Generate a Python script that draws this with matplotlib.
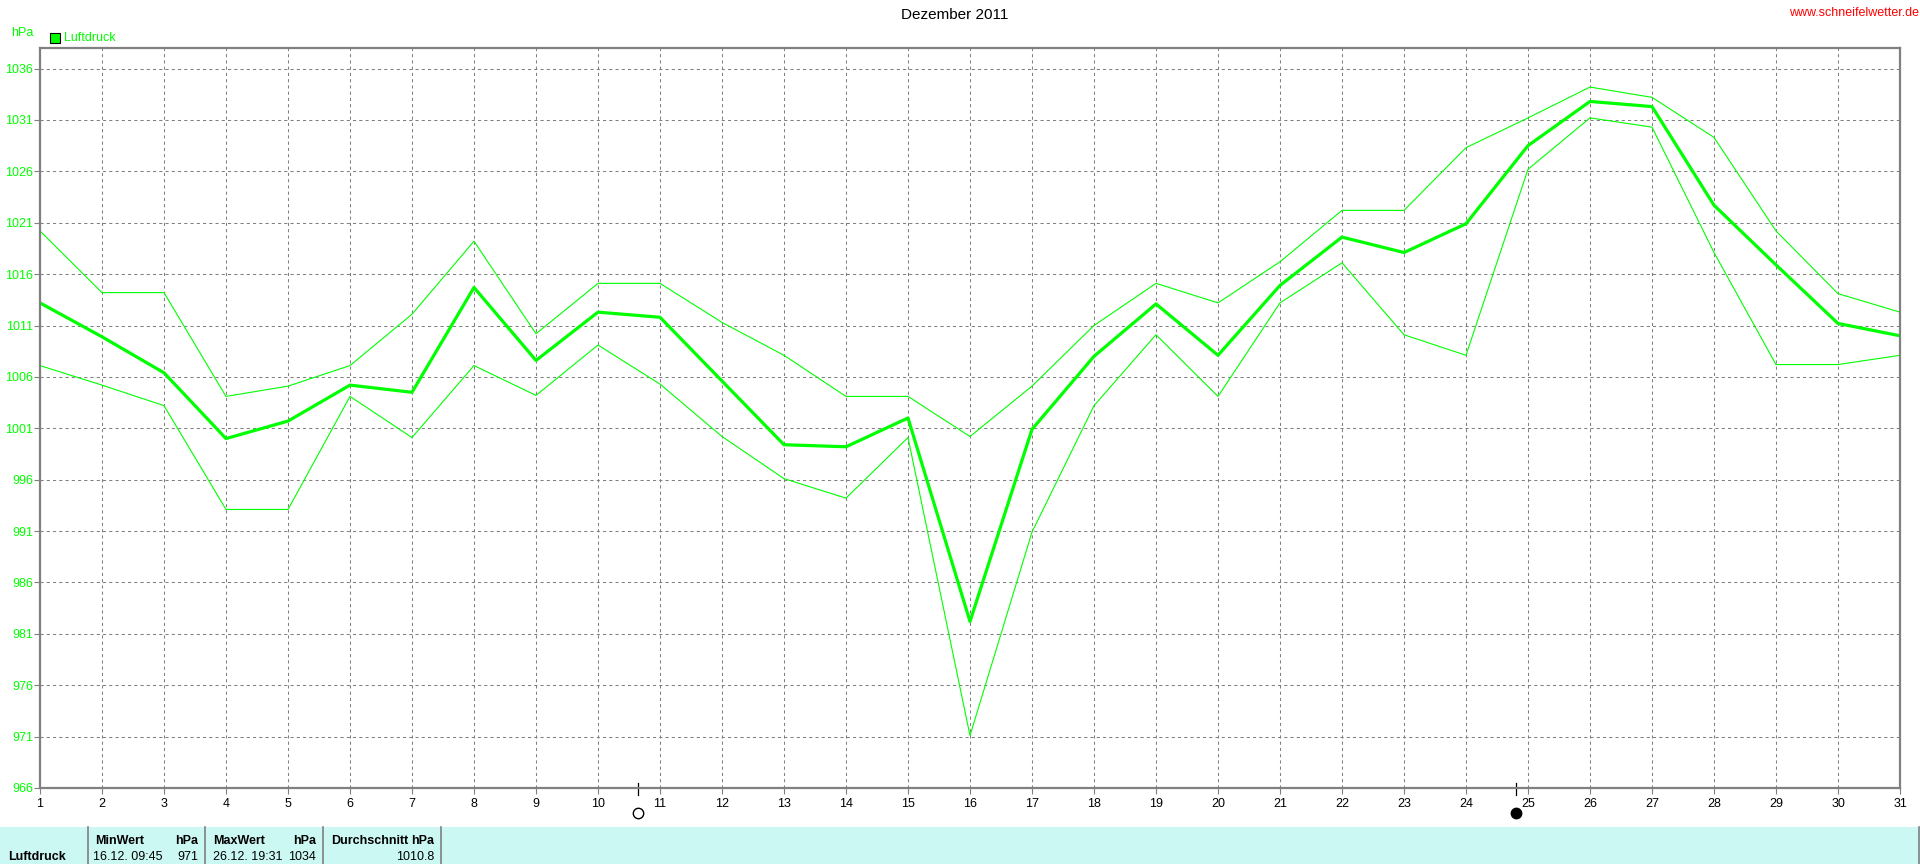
import matplotlib
matplotlib.use("Agg")
import matplotlib.pyplot as plt
from matplotlib.patches import Rectangle
from matplotlib.lines import Line2D

plt.rcParams["font.family"] = ["Liberation Sans", "DejaVu Sans"]

days = list(range(1, 32))
druck_mittel = [1013.2, 1009.9, 1006.4, 1000.0, 1001.7, 1005.2, 1004.5, 1014.7, 1007.6, 1012.3,
                1011.8, 1005.6, 999.4, 999.2, 1002.0, 982.2, 1000.9, 1008.0, 1013.1, 1008.1,
                1014.9, 1019.6, 1018.1, 1020.9, 1028.5, 1032.8, 1032.3, 1022.7, 1016.9, 1011.2, 1010.0]
druck_max = [1020.2, 1014.2, 1014.2, 1004.1, 1005.1, 1007.1, 1012.1, 1019.2, 1010.2, 1015.1,
             1015.1, 1011.3, 1008.1, 1004.1, 1004.1, 1000.2, 1005.1, 1011.0, 1015.1, 1013.2,
             1017.2, 1022.2, 1022.2, 1028.3, 1031.2, 1034.2, 1033.2, 1029.3, 1020.2, 1014.1, 1012.3]
druck_min = [1007.1, 1005.2, 1003.2, 993.1, 993.1, 1004.1, 1000.1, 1007.1, 1004.2, 1009.1,
             1005.3, 1000.2, 996.1, 994.2, 1000.1, 971.1, 990.9, 1003.2, 1010.1, 1004.1,
             1013.2, 1017.1, 1010.1, 1008.1, 1026.2, 1031.2, 1030.3, 1018.1, 1007.2, 1007.2, 1008.1]
y_ticks = list(range(966, 1037, 5))

# moon phases (day position)
vollmond = 10.65
neumond = 24.8

# statistics table
tab_name = "Luftdruck"
tab_min = ("16.12. 09:45", "971")
tab_max = ("26.12. 19:31", "1034")
tab_mean = "1010.8"

GREEN = "#00ff00"
GRAY = "#808080"
W, H = 1920, 864


def fx(px):
    return px / W


def fy(py):
    return 1 - py / H


fig = plt.figure(figsize=(19.2, 8.64), dpi=100)
ax = fig.add_axes([fx(40), fy(788), fx(1900) - fx(40), fy(48) - fy(788)])

ax.plot(days, druck_max, color=GREEN, lw=0.8)
ax.plot(days, druck_min, color=GREEN, lw=0.8)
ax.plot(days, druck_mittel, color=GREEN, lw=2.3)

ax.set_xlim(1, 31)
ax.set_ylim(966, 1038)
ax.set_xticks(days)
ax.set_yticks(y_ticks)
ax.grid(True, color=GRAY, linestyle=(0, (3, 3)), lw=0.75)
ax.tick_params(axis="y", colors=GRAY, labelcolor=GREEN, labelsize=9, length=4, width=0.8, pad=1)
ax.tick_params(axis="x", colors=GRAY, labelcolor="black", labelsize=9, length=4, width=0.8, pad=3)
for s in ax.spines.values():
    s.set_color(GRAY)
    s.set_linewidth(1.6)

# moon symbols
xt = ax.get_xaxis_transform()
for d, fill in [(vollmond, "white"), (neumond, "black")]:
    ax.plot([d, d], [0.007, -0.0095], color="black", lw=0.9, transform=xt, clip_on=False)
    ax.plot([d], [-0.034], marker="o", ms=7.5, mfc=fill, mec="black", mew=1,
            transform=xt, clip_on=False)

# header texts
fig.text(0.497, fy(15), "Dezember 2011", ha="center", va="center", fontsize=11)
fig.text(fx(1919), fy(13), "www.schneifelwetter.de", ha="right", va="center", fontsize=9, color="red")
fig.text(fx(11), fy(33), "hPa", ha="left", va="center", fontsize=9, color=GREEN)
fig.patches.append(Rectangle((fx(50), fy(43)), fx(10), fy(33) - fy(43), transform=fig.transFigure,
                             facecolor=GREEN, edgecolor="black", lw=0.8))
fig.text(fx(64), fy(38), "Luftdruck", ha="left", va="center", fontsize=9, color=GREEN)

# table at bottom
fig.patches.append(Rectangle((0, 0), 1, fy(827), transform=fig.transFigure,
                             facecolor="#ccf8f4", edgecolor="none"))
for sx in [88, 205, 323, 441, 1919]:
    fig.lines.append(Line2D([fx(sx), fx(sx)], [0, fy(827)], transform=fig.transFigure,
                            color=GRAY, lw=1.2))
r1, r2 = fy(841), fy(857)
fig.text(fx(8), r2, tab_name, ha="left", va="center", fontsize=9, weight="bold")
fig.text(fx(95), r1, "MinWert", ha="left", va="center", fontsize=9, weight="bold")
fig.text(fx(198), r1, "hPa", ha="right", va="center", fontsize=9, weight="bold")
fig.text(fx(93), r2, tab_min[0], ha="left", va="center", fontsize=9)
fig.text(fx(198), r2, tab_min[1], ha="right", va="center", fontsize=9)
fig.text(fx(213), r1, "MaxWert", ha="left", va="center", fontsize=9, weight="bold")
fig.text(fx(316), r1, "hPa", ha="right", va="center", fontsize=9, weight="bold")
fig.text(fx(213), r2, tab_max[0], ha="left", va="center", fontsize=9)
fig.text(fx(316), r2, tab_max[1], ha="right", va="center", fontsize=9)
fig.text(fx(331), r1, "Durchschnitt", ha="left", va="center", fontsize=9, weight="bold")
fig.text(fx(434), r1, "hPa", ha="right", va="center", fontsize=9, weight="bold")
fig.text(fx(434), r2, tab_mean, ha="right", va="center", fontsize=9)

fig.savefig("out.png", dpi=100)
